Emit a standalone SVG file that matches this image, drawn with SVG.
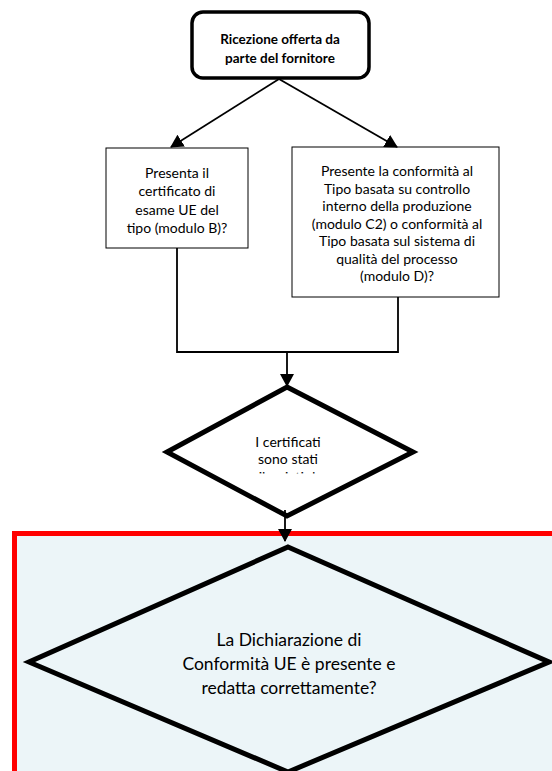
<svg xmlns="http://www.w3.org/2000/svg" width="552" height="771" viewBox="0 0 552 771">
<style>
text{font-family:Lato,"Open Sans","Liberation Sans",sans-serif;fill:#000;text-anchor:middle}
.t{font-size:14px}
.b{font-size:13.5px;font-weight:bold}
.l{font-size:17.5px}
.box{fill:#fff;stroke:#000;stroke-width:1}
.dia{stroke:#000;stroke-width:5;stroke-linejoin:miter}
.c{fill:none;stroke:#000;stroke-width:1.8}
</style>
<defs>
<marker id="ah" markerWidth="13" markerHeight="14" refX="12" refY="7" orient="auto" markerUnits="userSpaceOnUse" viewBox="0 0 13 14">
<path d="M0,0 L13,7 L0,14 Z" fill="#000"/>
</marker>
<clipPath id="cl"><rect x="150" y="380" width="280" height="93.5"/></clipPath>
</defs>
<rect width="552" height="771" fill="#fff"/>
<g id="region">
<rect x="14.5" y="533.5" width="550" height="260" fill="#ECF5F8" stroke="#FF0000" stroke-width="5"/>
</g>
<g id="start">
<rect x="192" y="12" width="177" height="66" rx="11" fill="#fff" stroke="#000" stroke-width="3.5"/>
<text class="b" x="280" y="44">Ricezione offerta da</text>
<text class="b" x="280" y="63">parte del fornitore</text>
</g>
<g id="moduloB">
<rect class="box" x="106" y="148" width="142" height="100"/>
<text class="t" x="177" y="177.5">Presenta il</text>
<text class="t" x="177" y="196">certificato di</text>
<text class="t" x="177" y="214.5">esame UE del</text>
<text class="t" x="177" y="232.5">tipo (modulo B)?</text>
</g>
<g id="moduloC2D">
<rect class="box" x="292" y="147" width="207" height="150"/>
<text class="t" x="397" y="176">Presente la conformità al</text>
<text class="t" x="397" y="193.5">Tipo basata su controllo</text>
<text class="t" x="397" y="211">interno della produzione</text>
<text class="t" x="397" y="228.5">(modulo C2) o conformità al</text>
<text class="t" x="397" y="246">Tipo basata sul sistema di</text>
<text class="t" x="397" y="263.5">qualità del processo</text>
<text class="t" x="397" y="281">(modulo D)?</text>
</g>
<g id="certificati">
<polygon class="dia" fill="#fff" points="287,387 413,452 287,516 167,452"/>
<text class="t" x="288" y="446.5">I certificati</text>
<text class="t" x="288" y="464">sono stati</text>
<text class="t" x="288" y="481.5" clip-path="url(#cl)">rilasciati da</text>
</g>
<g id="dichiarazione">
<polygon class="dia" fill="none" points="288,547 549,662 288,772 29,662"/>
<text class="l" x="289" y="646">La Dichiarazione di</text>
<text class="l" x="289" y="670">Conformità UE è presente e</text>
<text class="l" x="289" y="694">redatta correttamente?</text>
</g>
<g id="connectors">
<line class="c" x1="279" y1="79" x2="171" y2="147" marker-end="url(#ah)"/>
<line class="c" x1="279" y1="79" x2="397" y2="147" marker-end="url(#ah)"/>
<polyline class="c" points="177,248 177,352 398,352 398,297"/>
<line class="c" x1="287" y1="352" x2="287" y2="386" marker-end="url(#ah)"/>
<line class="c" x1="285" y1="510" x2="285" y2="541" marker-end="url(#ah)"/>
</g>
</svg>
